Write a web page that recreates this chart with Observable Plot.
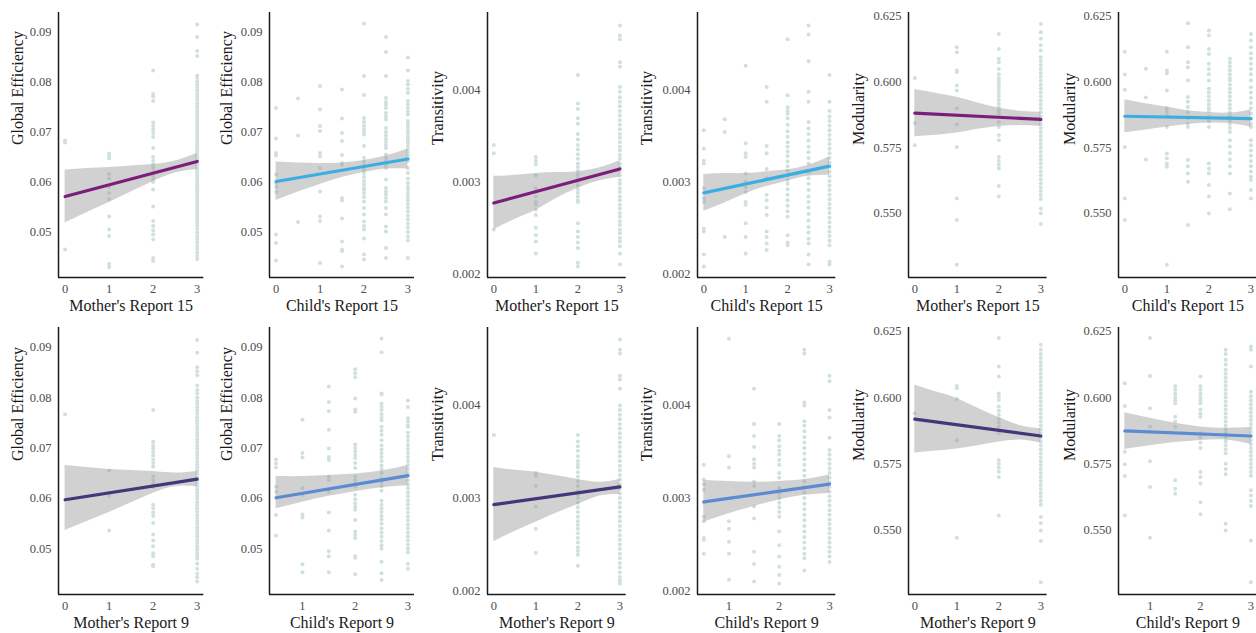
<!DOCTYPE html>
<html><head><meta charset="utf-8">
<script src="https://cdn.jsdelivr.net/npm/d3@7"></script>
<script src="https://cdn.jsdelivr.net/npm/@observablehq/plot@0.6"></script>
<style>
html,body{margin:0;padding:0;background:#fff;}
#wrap{position:relative;width:1256px;height:633px;overflow:hidden;background:#fff;}
.panel{position:absolute;}
.panel svg{max-width:none !important;display:block;background:transparent !important;overflow:visible;}
.panel svg g[aria-label*="tick label"] text{font-family:'Liberation Serif','DejaVu Serif',serif !important;font-size:12.5px !important;fill:#4d4d4d !important;}
</style></head><body><div id="wrap"></div>
<script>
// ---------- axis text ----------
const xTitles = ["Mother's Report 15","Child's Report 15","Mother's Report 15","Child's Report 15","Mother's Report 15","Child's Report 15",
                 "Mother's Report 9","Child's Report 9","Mother's Report 9","Child's Report 9","Mother's Report 9","Child's Report 9"];
const yTitles = ["Global Efficiency","Global Efficiency","Transitivity","Transitivity","Modularity","Modularity",
                 "Global Efficiency","Global Efficiency","Transitivity","Transitivity","Modularity","Modularity"];
const xLimFull = [-0.15, 3.15];
const xLimChild9 = [0.375, 3.125];
const xTicksFull = [0, 1, 2, 3];
const xTicksChild9 = [1, 2, 3];
const yLimGE = [0.0409, 0.0939];
const yLimTR = [0.00196, 0.00484];
const yLimMO = [0.5256, 0.6265];
const yTicksGE = [0.05, 0.06, 0.07, 0.08, 0.09];
const yTicksTR = [0.002, 0.003, 0.004];
const yTicksMO = [0.550, 0.575, 0.600, 0.625];

// ---------- scatter points: [x, [y values]] ----------
const ptsGE_M15 = [
 [0,[0.0683,0.0679,0.0465]],
 [1,[0.0657,0.0652,0.0647,0.0616,0.0607,0.0590,0.0578,0.0566,0.0531,0.0505,0.0492,0.0436,0.0430]],
 [2,[0.0823,0.0776,0.0771,0.0762,0.0719,0.0712,0.0705,0.0698,0.0690,0.0668,0.0650,0.0642,0.0635,0.0628,0.0620,0.0612,0.0605,0.0600,0.0585,0.0551,0.0522,0.0512,0.0503,0.0495,0.0485,0.0448,0.0442]],
 [3,[0.0915,0.0890,0.0862,0.0852,0.0813,0.0808,0.0801,0.0795,0.0789,0.0783,0.0776,0.0771,0.0765,0.0758,0.0752,0.0747,0.0741,0.0737,0.0731,0.0726,0.0720,0.0716,0.0711,0.0706,0.0700,0.0695,0.0690,0.0686,0.0680,0.0675,0.0670,0.0666,0.0661,0.0656,0.0651,0.0647,0.0642,0.0637,0.0633,0.0628,0.0624,0.0619,0.0614,0.0610,0.0605,0.0600,0.0595,0.0591,0.0586,0.0581,0.0576,0.0571,0.0566,0.0561,0.0556,0.0551,0.0545,0.0540,0.0535,0.0530,0.0525,0.0519,0.0513,0.0506,0.0499,0.0492,0.0486,0.0479,0.0472,0.0466,0.0459,0.0452,0.0446]]
];
const ptsGE_C15 = [
 [0,[0.0748,0.0687,0.0658,0.0653,0.0615,0.0598,0.0590,0.0580,0.0495,0.0478,0.0443]],
 [0.5,[0.0767,0.0693,0.0520]],
 [1,[0.0792,0.0745,0.0712,0.0702,0.0658,0.0651,0.0628,0.0581,0.0531,0.0522,0.0438]],
 [1.5,[0.0785,0.0727,0.0698,0.0682,0.0654,0.0638,0.0635,0.0568,0.0563,0.0527,0.0481,0.0465,0.0462,0.0431]],
 [2,[0.0917,0.0812,0.0774,0.0728,0.0720,0.0712,0.0705,0.0700,0.0695,0.0672,0.0648,0.0640,0.0632,0.0625,0.0618,0.0610,0.0602,0.0595,0.0588,0.0585,0.0578,0.0570,0.0561,0.0548,0.0535,0.0521,0.0512,0.0505,0.0487,0.0455,0.0445]],
 [2.5,[0.0890,0.0860,0.0812,0.0768,0.0760,0.0755,0.0748,0.0738,0.0731,0.0725,0.0708,0.0700,0.0693,0.0686,0.0680,0.0674,0.0668,0.0655,0.0648,0.0641,0.0635,0.0628,0.0605,0.0588,0.0581,0.0575,0.0568,0.0561,0.0548,0.0535,0.0511,0.0501,0.0468,0.0448]],
 [3,[0.0849,0.0823,0.0802,0.0795,0.0786,0.0778,0.0762,0.0755,0.0748,0.0741,0.0735,0.0722,0.0716,0.0710,0.0703,0.0697,0.0691,0.0685,0.0679,0.0672,0.0666,0.0660,0.0654,0.0648,0.0642,0.0628,0.0618,0.0607,0.0598,0.0590,0.0584,0.0577,0.0570,0.0563,0.0556,0.0549,0.0541,0.0533,0.0525,0.0517,0.0509,0.0500,0.0491,0.0483,0.0448]]
];
const ptsTR_M15 = [
 [0,[0.00340,0.00331,0.00248]],
 [1,[0.00327,0.00323,0.00319,0.00307,0.00293,0.00289,0.00284,0.00278,0.00275,0.00270,0.00264,0.00250,0.00242,0.00235,0.00222]],
 [2,[0.00416,0.00385,0.00379,0.00369,0.00363,0.00352,0.00346,0.00340,0.00335,0.00330,0.00325,0.00320,0.00316,0.00312,0.00308,0.00304,0.00300,0.00296,0.00292,0.00288,0.00284,0.00280,0.00278,0.00255,0.00246,0.00240,0.00234,0.00228,0.00212,0.00208]],
 [3,[0.00470,0.00459,0.00455,0.00430,0.00425,0.00403,0.00398,0.00392,0.00387,0.00382,0.00377,0.00372,0.00367,0.00362,0.00357,0.00352,0.00348,0.00343,0.00338,0.00334,0.00329,0.00325,0.00320,0.00316,0.00311,0.00307,0.00302,0.00298,0.00293,0.00289,0.00284,0.00280,0.00275,0.00271,0.00266,0.00262,0.00257,0.00253,0.00248,0.00244,0.00239,0.00235,0.00230,0.00222,0.00210]]
];
const ptsTR_C15 = [
 [0,[0.00356,0.00336,0.00323,0.00320,0.00293,0.00282,0.00278,0.00249,0.00246,0.00221,0.00208]],
 [0.5,[0.00368,0.00354,0.00240]],
 [1,[0.00426,0.00342,0.00331,0.00327,0.00309,0.00300,0.00294,0.00289,0.00278,0.00275,0.00255,0.00240,0.00222]],
 [1.5,[0.00403,0.00387,0.00339,0.00331,0.00314,0.00304,0.00286,0.00280,0.00272,0.00264,0.00246,0.00240,0.00233,0.00226]],
 [2,[0.00455,0.00394,0.00381,0.00377,0.00374,0.00369,0.00362,0.00355,0.00349,0.00343,0.00338,0.00333,0.00328,0.00322,0.00317,0.00312,0.00307,0.00302,0.00298,0.00292,0.00286,0.00280,0.00274,0.00268,0.00262,0.00242,0.00234,0.00231]],
 [2.5,[0.00470,0.00460,0.00431,0.00398,0.00387,0.00365,0.00358,0.00352,0.00345,0.00338,0.00332,0.00326,0.00320,0.00310,0.00304,0.00298,0.00291,0.00284,0.00278,0.00272,0.00265,0.00258,0.00251,0.00245,0.00238,0.00233,0.00221,0.00210]],
 [3,[0.00416,0.00387,0.00377,0.00371,0.00366,0.00361,0.00356,0.00351,0.00346,0.00341,0.00336,0.00331,0.00326,0.00321,0.00316,0.00311,0.00306,0.00301,0.00296,0.00291,0.00286,0.00281,0.00276,0.00271,0.00266,0.00261,0.00256,0.00251,0.00246,0.00241,0.00236,0.00231,0.00213,0.00210]]
];
const ptsMO_M15 = [
 [0,[0.6016,0.5844,0.5760]],
 [1,[0.6133,0.6114,0.6044,0.6038,0.5987,0.5968,0.5899,0.5839,0.5753,0.5557,0.5475,0.5305]],
 [2,[0.6183,0.6126,0.6089,0.6076,0.6050,0.6030,0.6015,0.6006,0.5995,0.5982,0.5970,0.5958,0.5945,0.5932,0.5918,0.5905,0.5892,0.5880,0.5848,0.5829,0.5798,0.5779,0.5715,0.5700,0.5685,0.5671,0.5604,0.5564]],
 [3,[0.6221,0.6190,0.6165,0.6140,0.6120,0.6095,0.6080,0.6065,0.6050,0.6035,0.6020,0.6005,0.5990,0.5975,0.5960,0.5945,0.5930,0.5915,0.5900,0.5885,0.5870,0.5855,0.5840,0.5825,0.5810,0.5795,0.5780,0.5765,0.5750,0.5735,0.5720,0.5705,0.5690,0.5675,0.5660,0.5645,0.5630,0.5615,0.5600,0.5585,0.5570,0.5555,0.5519,0.5501,0.5460]]
];
const ptsMO_C15 = [
 [0,[0.6116,0.6029,0.5971,0.5753,0.5557,0.5475]],
 [0.5,[0.6051,0.5941,0.5705]],
 [1,[0.6116,0.6044,0.6034,0.5968,0.5900,0.5887,0.5874,0.5829,0.5728,0.5710,0.5690,0.5678,0.5305]],
 [1.5,[0.6224,0.6133,0.6076,0.6057,0.6006,0.5943,0.5925,0.5905,0.5885,0.5862,0.5840,0.5829,0.5703,0.5680,0.5652,0.5621,0.5456]],
 [2,[0.6196,0.6177,0.6126,0.6107,0.6070,0.6050,0.6030,0.6006,0.5975,0.5960,0.5945,0.5930,0.5915,0.5900,0.5890,0.5868,0.5850,0.5829,0.5690,0.5670,0.5652,0.5608,0.5564,0.5500]],
 [2.5,[0.6089,0.6075,0.6060,0.6045,0.6030,0.6015,0.6006,0.5990,0.5975,0.5960,0.5945,0.5930,0.5915,0.5900,0.5885,0.5870,0.5855,0.5840,0.5825,0.5810,0.5779,0.5755,0.5730,0.5705,0.5680,0.5652,0.5576,0.5516]],
 [3,[0.6183,0.6158,0.6133,0.6110,0.6090,0.6070,0.6050,0.6030,0.6006,0.5980,0.5960,0.5940,0.5920,0.5900,0.5880,0.5860,0.5840,0.5829,0.5779,0.5760,0.5740,0.5720,0.5700,0.5680,0.5660,0.5640,0.5627,0.5589,0.5557]]
];
const ptsGE_M9 = [
 [0,[0.0767]],
 [1,[0.0655,0.0605,0.0536]],
 [2,[0.0775,0.0712,0.0705,0.0699,0.0692,0.0685,0.0677,0.0670,0.0663,0.0643,0.0636,0.0629,0.0623,0.0587,0.0580,0.0572,0.0565,0.0551,0.0528,0.0516,0.0505,0.0491,0.0485,0.0468,0.0465]],
 [3,[0.0914,0.0889,0.0860,0.0852,0.0844,0.0824,0.0815,0.0808,0.0800,0.0793,0.0787,0.0780,0.0774,0.0768,0.0761,0.0755,0.0749,0.0742,0.0736,0.0730,0.0724,0.0717,0.0711,0.0705,0.0699,0.0692,0.0686,0.0680,0.0673,0.0667,0.0661,0.0655,0.0649,0.0642,0.0636,0.0630,0.0624,0.0617,0.0611,0.0605,0.0599,0.0592,0.0586,0.0580,0.0574,0.0567,0.0561,0.0555,0.0549,0.0542,0.0536,0.0530,0.0524,0.0517,0.0511,0.0505,0.0499,0.0492,0.0486,0.0480,0.0470,0.0460,0.0450,0.0443,0.0435]]
];
const ptsGE_C9 = [
 [0.5,[0.0677,0.0669,0.0661,0.0623,0.0613,0.0567,0.0526]],
 [1,[0.0756,0.0690,0.0681,0.0620,0.0607,0.0568,0.0562,0.0469,0.0453]],
 [1.5,[0.0822,0.0791,0.0773,0.0736,0.0699,0.0682,0.0676,0.0643,0.0636,0.0613,0.0572,0.0536,0.0495,0.0485,0.0453]],
 [2,[0.0856,0.0848,0.0840,0.0798,0.0776,0.0772,0.0707,0.0700,0.0693,0.0686,0.0680,0.0670,0.0660,0.0643,0.0636,0.0629,0.0623,0.0607,0.0598,0.0590,0.0583,0.0577,0.0557,0.0534,0.0527,0.0521,0.0485,0.0482,0.0449]],
 [2.5,[0.0917,0.0890,0.0808,0.0806,0.0788,0.0781,0.0775,0.0767,0.0760,0.0755,0.0742,0.0734,0.0726,0.0715,0.0705,0.0697,0.0690,0.0682,0.0674,0.0665,0.0658,0.0650,0.0640,0.0632,0.0624,0.0615,0.0595,0.0587,0.0580,0.0573,0.0565,0.0558,0.0550,0.0540,0.0532,0.0524,0.0515,0.0507,0.0500,0.0474,0.0451,0.0438]],
 [3,[0.0794,0.0781,0.0759,0.0752,0.0745,0.0742,0.0730,0.0722,0.0714,0.0706,0.0698,0.0690,0.0682,0.0674,0.0666,0.0658,0.0650,0.0643,0.0636,0.0628,0.0620,0.0612,0.0604,0.0596,0.0588,0.0580,0.0572,0.0564,0.0556,0.0548,0.0540,0.0532,0.0524,0.0516,0.0508,0.0500,0.0493,0.0470,0.0460]]
];
const ptsTR_M9 = [
 [0,[0.00368]],
 [1,[0.00327,0.00324,0.00313,0.00291,0.00267,0.00241]],
 [2,[0.00368,0.00361,0.00356,0.00351,0.00345,0.00340,0.00336,0.00333,0.00328,0.00323,0.00318,0.00313,0.00308,0.00304,0.00300,0.00295,0.00290,0.00285,0.00280,0.00275,0.00271,0.00267,0.00262,0.00257,0.00252,0.00247,0.00243,0.00239,0.00227]],
 [3,[0.00471,0.00460,0.00456,0.00432,0.00428,0.00418,0.00400,0.00395,0.00390,0.00385,0.00380,0.00375,0.00370,0.00365,0.00360,0.00355,0.00350,0.00345,0.00340,0.00335,0.00330,0.00325,0.00320,0.00315,0.00310,0.00305,0.00300,0.00295,0.00290,0.00285,0.00280,0.00275,0.00270,0.00265,0.00260,0.00255,0.00250,0.00245,0.00240,0.00235,0.00230,0.00225,0.00220,0.00215,0.00211,0.00208]]
];
const ptsTR_C9 = [
 [0.5,[0.00336,0.00320,0.00315,0.00309,0.00295,0.00280,0.00275,0.00257,0.00255,0.00240]],
 [1,[0.00472,0.00345,0.00333,0.00275,0.00267,0.00253,0.00240,0.00212]],
 [1.5,[0.00418,0.00380,0.00367,0.00355,0.00342,0.00337,0.00333,0.00318,0.00313,0.00291,0.00278,0.00242,0.00229,0.00210]],
 [2,[0.00380,0.00367,0.00362,0.00356,0.00351,0.00347,0.00341,0.00336,0.00327,0.00322,0.00311,0.00305,0.00300,0.00295,0.00290,0.00285,0.00280,0.00264,0.00249,0.00237,0.00226,0.00217,0.00208]],
 [2.5,[0.00460,0.00456,0.00403,0.00400,0.00383,0.00378,0.00372,0.00366,0.00360,0.00354,0.00348,0.00342,0.00336,0.00330,0.00324,0.00318,0.00312,0.00306,0.00300,0.00294,0.00288,0.00282,0.00276,0.00270,0.00264,0.00258,0.00252,0.00246,0.00240,0.00235,0.00222]],
 [3,[0.00432,0.00426,0.00395,0.00387,0.00365,0.00352,0.00347,0.00342,0.00337,0.00332,0.00327,0.00322,0.00317,0.00312,0.00307,0.00302,0.00297,0.00292,0.00287,0.00282,0.00277,0.00272,0.00267,0.00262,0.00257,0.00252,0.00247,0.00242,0.00237,0.00231]]
];
const ptsMO_M9 = [
 [0,[0.5941]],
 [1,[0.6044,0.6035,0.5995,0.5839,0.5470]],
 [2,[0.6225,0.6118,0.6080,0.6016,0.6005,0.5991,0.5966,0.5950,0.5935,0.5920,0.5905,0.5890,0.5876,0.5865,0.5764,0.5750,0.5735,0.5720,0.5700,0.5555]],
 [3,[0.6200,0.6181,0.6165,0.6150,0.6135,0.6120,0.6105,0.6090,0.6075,0.6060,0.6045,0.6030,0.6015,0.6000,0.5985,0.5970,0.5955,0.5940,0.5925,0.5910,0.5895,0.5880,0.5865,0.5850,0.5835,0.5820,0.5805,0.5790,0.5775,0.5760,0.5745,0.5730,0.5715,0.5700,0.5685,0.5670,0.5655,0.5640,0.5625,0.5610,0.5595,0.5549,0.5525,0.5498,0.5458,0.5302]]
];
const ptsMO_C9 = [
 [0.5,[0.6054,0.5968,0.5795,0.5748,0.5704,0.5555]],
 [1,[0.6225,0.6082,0.5960,0.5890,0.5760,0.5662,0.5470]],
 [1.5,[0.6044,0.6030,0.6015,0.6000,0.5990,0.5979,0.5928,0.5910,0.5890,0.5688,0.5656,0.5637]],
 [2,[0.6080,0.6044,0.6030,0.6015,0.6000,0.5990,0.5979,0.5955,0.5940,0.5928,0.5865,0.5850,0.5830,0.5810,0.5719,0.5700,0.5675,0.5605,0.5559]],
 [2.5,[0.6181,0.6165,0.6143,0.6125,0.6105,0.6090,0.6075,0.6060,0.6045,0.6030,0.6015,0.6000,0.5985,0.5970,0.5955,0.5940,0.5925,0.5910,0.5895,0.5880,0.5865,0.5850,0.5835,0.5820,0.5805,0.5790,0.5750,0.5730,0.5710,0.5523,0.5498]],
 [3,[0.6193,0.6181,0.6118,0.6022,0.6005,0.5990,0.5975,0.5960,0.5945,0.5930,0.5915,0.5900,0.5885,0.5870,0.5855,0.5840,0.5825,0.5810,0.5795,0.5780,0.5765,0.5750,0.5735,0.5720,0.5705,0.5650,0.5630,0.5610,0.5590,0.5460,0.5302]]
];

// ---------- confidence bands (lower/upper at bandX) and fitted line ends ----------
const bandXFull = [0, 0.5, 1, 1.5, 2, 2.5, 3];
const bandXChild9 = [0.5, 1, 1.5, 2, 2.5, 3];
const hiGE_M15 = [0.0624,0.0627,0.0629,0.0632,0.0635,0.0642,0.0657], loGE_M15 = [0.0518,0.0539,0.0559,0.0580,0.0601,0.0618,0.0625], fitGE_M15 = [0.0571,0.0641];
const hiGE_C15 = [0.0640,0.0638,0.0637,0.0638,0.0643,0.0652,0.0666], loGE_C15 = [0.0563,0.0580,0.0595,0.0609,0.0619,0.0626,0.0626], fitGE_C15 = [0.0601,0.0646];
const hiTR_M15 = [0.00306,0.00307,0.00309,0.00310,0.00311,0.00315,0.00323], loTR_M15 = [0.00248,0.00259,0.00269,0.00282,0.00293,0.00301,0.00305], fitTR_M15 = [0.00277,0.00314];
const hiTR_C15 = [0.00308,0.00309,0.00309,0.00311,0.00313,0.00318,0.00327], loTR_C15 = [0.00268,0.00277,0.00287,0.00295,0.00301,0.00306,0.00307], fitTR_C15 = [0.00288,0.00317];
const hiMO_M15 = [0.5972,0.5958,0.5942,0.5920,0.5901,0.5889,0.5885], loMO_M15 = [0.5792,0.5798,0.5806,0.5820,0.5831,0.5835,0.5831], fitMO_M15 = [0.5882,0.5858];
const hiMO_C15 = [0.5933,0.5918,0.5905,0.5891,0.5884,0.5882,0.5894], loMO_C15 = [0.5807,0.5818,0.5829,0.5839,0.5844,0.5842,0.5828], fitMO_C15 = [0.5870,0.5861];
const hiGE_M9 = [0.0665,0.0661,0.0657,0.0655,0.0653,0.0650,0.0653], loGE_M9 = [0.0536,0.0554,0.0572,0.0591,0.0610,0.0623,0.0623], fitGE_M9 = [0.0597,0.0638];
const hiGE_C9 = [0.0643,0.0643,0.0645,0.0648,0.0654,0.0665], loGE_C9 = [0.0579,0.0592,0.0604,0.0613,0.0621,0.0625], fitGE_C9 = [0.0601,0.0645];
const hiTR_M9 = [0.00333,0.00330,0.00328,0.00324,0.00320,0.00317,0.00320], loTR_M9 = [0.00253,0.00264,0.00274,0.00284,0.00293,0.00302,0.00304], fitTR_M9 = [0.00293,0.00312];
const hiTR_C9 = [0.00319,0.00318,0.00317,0.00318,0.00320,0.00325], loTR_C9 = [0.00274,0.00283,0.00291,0.00298,0.00303,0.00305], fitTR_C9 = [0.00296,0.00315];
const hiMO_M9 = [0.6048,0.6022,0.5997,0.5960,0.5925,0.5895,0.5882], loMO_M9 = [0.5791,0.5798,0.5806,0.5818,0.5832,0.5840,0.5829], fitMO_M9 = [0.5919,0.5855];
const hiMO_C9 = [0.5943,0.5922,0.5903,0.5889,0.5884,0.5887], loMO_C9 = [0.5804,0.5818,0.5830,0.5838,0.5840,0.5823], fitMO_C9 = [0.5874,0.5855];

// ---------- styles & layout (not data) ----------
const colM15 = "#7c1d7e", colC15 = "#3aaee3", colM9 = "#463579", colC9 = "#5b8bd2";
const pointColor = "#d0e0e0";
const serif = "'Liberation Serif', 'DejaVu Serif', serif";
const tickColor = "#4d4d4d";
const colAxisX = [58, 269.3, 486.7, 697.3, 907.7, 1118.3];
const colPlotW = [145.3, 145, 138.7, 138.3, 138.6, 138.7];
const colMarginLeft = [58, 62, 70, 70, 72, 72];
const colYTitleOff = [41, 42.6, 50, 50.5, 49.4, 49];
const rowTop = [0, 316], rowHeight = [316, 317], rowMarginTop = [12, 11], rowMarginBottom = [39, 39];

const panels = [
 {pts: ptsGE_M15, bx: bandXFull, lo: loGE_M15, hi: hiGE_M15, fit: fitGE_M15, color: colM15, yLim: yLimGE, yTicks: yTicksGE, fmt: ".2f", xLim: xLimFull, xTicks: xTicksFull},
 {pts: ptsGE_C15, bx: bandXFull, lo: loGE_C15, hi: hiGE_C15, fit: fitGE_C15, color: colC15, yLim: yLimGE, yTicks: yTicksGE, fmt: ".2f", xLim: xLimFull, xTicks: xTicksFull},
 {pts: ptsTR_M15, bx: bandXFull, lo: loTR_M15, hi: hiTR_M15, fit: fitTR_M15, color: colM15, yLim: yLimTR, yTicks: yTicksTR, fmt: ".3f", xLim: xLimFull, xTicks: xTicksFull},
 {pts: ptsTR_C15, bx: bandXFull, lo: loTR_C15, hi: hiTR_C15, fit: fitTR_C15, color: colC15, yLim: yLimTR, yTicks: yTicksTR, fmt: ".3f", xLim: xLimFull, xTicks: xTicksFull},
 {pts: ptsMO_M15, bx: bandXFull, lo: loMO_M15, hi: hiMO_M15, fit: fitMO_M15, color: colM15, yLim: yLimMO, yTicks: yTicksMO, fmt: ".3f", xLim: xLimFull, xTicks: xTicksFull},
 {pts: ptsMO_C15, bx: bandXFull, lo: loMO_C15, hi: hiMO_C15, fit: fitMO_C15, color: colC15, yLim: yLimMO, yTicks: yTicksMO, fmt: ".3f", xLim: xLimFull, xTicks: xTicksFull},
 {pts: ptsGE_M9, bx: bandXFull, lo: loGE_M9, hi: hiGE_M9, fit: fitGE_M9, color: colM9, yLim: yLimGE, yTicks: yTicksGE, fmt: ".2f", xLim: xLimFull, xTicks: xTicksFull},
 {pts: ptsGE_C9, bx: bandXChild9, lo: loGE_C9, hi: hiGE_C9, fit: fitGE_C9, color: colC9, yLim: yLimGE, yTicks: yTicksGE, fmt: ".2f", xLim: xLimChild9, xTicks: xTicksChild9},
 {pts: ptsTR_M9, bx: bandXFull, lo: loTR_M9, hi: hiTR_M9, fit: fitTR_M9, color: colM9, yLim: yLimTR, yTicks: yTicksTR, fmt: ".3f", xLim: xLimFull, xTicks: xTicksFull},
 {pts: ptsTR_C9, bx: bandXChild9, lo: loTR_C9, hi: hiTR_C9, fit: fitTR_C9, color: colC9, yLim: yLimTR, yTicks: yTicksTR, fmt: ".3f", xLim: xLimChild9, xTicks: xTicksChild9},
 {pts: ptsMO_M9, bx: bandXFull, lo: loMO_M9, hi: hiMO_M9, fit: fitMO_M9, color: colM9, yLim: yLimMO, yTicks: yTicksMO, fmt: ".3f", xLim: xLimFull, xTicks: xTicksFull},
 {pts: ptsMO_C9, bx: bandXChild9, lo: loMO_C9, hi: hiMO_C9, fit: fitMO_C9, color: colC9, yLim: yLimMO, yTicks: yTicksMO, fmt: ".3f", xLim: xLimChild9, xTicks: xTicksChild9}
];

const wrap = document.getElementById("wrap");
panels.forEach((p, i) => {
  const row = Math.floor(i / 6), col = i % 6;
  const ml = colMarginLeft[col], mr = 2;
  const width = Math.round(ml + colPlotW[col] + mr);
  const dots = p.pts.flatMap(([x, ys]) => ys.map(y => ({x, y})));
  const band = p.bx.map((x, k) => ({x, lo: p.lo[k], hi: p.hi[k]}));
  const fitRows = [{x: p.bx[0], y: p.fit[0]}, {x: p.bx[p.bx.length - 1], y: p.fit[1]}];
  const chart = Plot.plot({
    width, height: rowHeight[row],
    marginLeft: ml, marginRight: width - ml - colPlotW[col], marginTop: rowMarginTop[row], marginBottom: rowMarginBottom[row],
    x: {domain: p.xLim, axis: null},
    y: {domain: p.yLim, axis: null},
    marks: [
      Plot.dot(dots, {x: "x", y: "y", r: 2, fill: pointColor, stroke: null}),
      Plot.areaY(band, {x: "x", y1: "lo", y2: "hi", fill: "#999999", fillOpacity: 0.45, curve: "natural"}),
      Plot.line(fitRows, {x: "x", y: "y", stroke: p.color, strokeWidth: 3.2}),
      Plot.axisX({ticks: p.xTicks, tickSize: 0, tickPadding: 7, label: null, tickFormat: d3.format("d"),
                  fontSize: 12.5, fontFamily: serif, fill: tickColor}),
      Plot.axisY({ticks: p.yTicks, tickSize: 0, tickPadding: 7, label: null, tickFormat: d3.format(p.fmt),
                  fontSize: 12.5, fontFamily: serif, fill: tickColor}),
      Plot.ruleX([p.xLim[0]], {stroke: "#1a1a1a", strokeWidth: 1.5}),
      Plot.ruleY([p.yLim[0]], {stroke: "#1a1a1a", strokeWidth: 1.5}),
      Plot.text([xTitles[i]], {text: d => d, frameAnchor: "bottom", lineAnchor: "middle", dy: 28, fontSize: 16, fill: "#1a1a1a", fontFamily: serif}),
      Plot.text([yTitles[i]], {text: d => d, frameAnchor: "left", dx: -colYTitleOff[col], rotate: -90, fontSize: 16, fill: "#1a1a1a", fontFamily: serif})
    ]
  });
  chart.style.maxWidth = "none";
  chart.style.overflow = "visible";
  const div = document.createElement("div");
  div.className = "panel";
  div.style.left = (colAxisX[col] - ml) + "px";
  div.style.top = rowTop[row] + "px";
  div.style.width = width + "px";
  div.style.height = rowHeight[row] + "px";
  div.appendChild(chart);
  wrap.appendChild(div);
});
</script></body></html>
